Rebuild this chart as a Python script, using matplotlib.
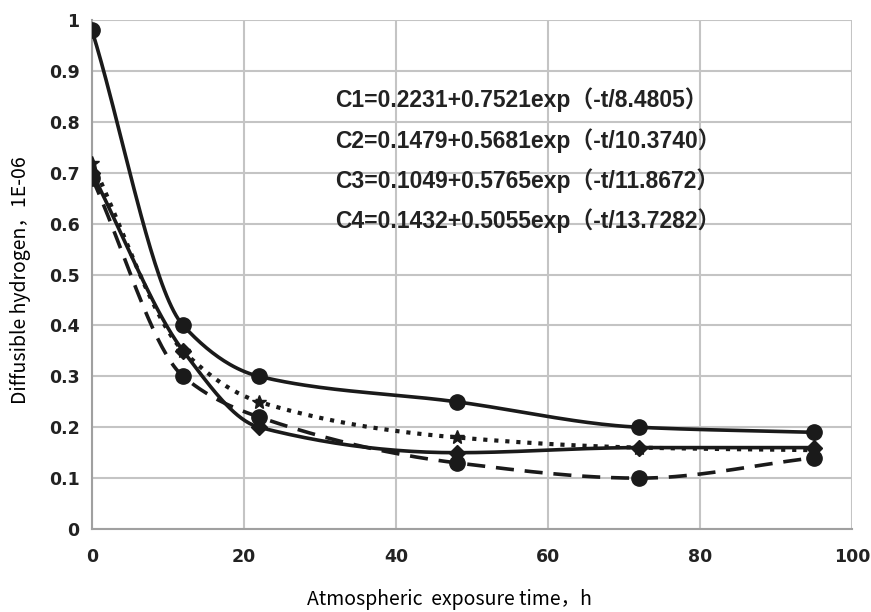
import numpy as np
import matplotlib.pyplot as plt

# exposure time (h)
t = [0, 12, 22, 48, 72, 95]
# diffusible hydrogen, 1E-06
c1 = [0.98, 0.40, 0.30, 0.25, 0.20, 0.19]
c2 = [0.72, 0.35, 0.25, 0.18, 0.16, 0.155]
c3 = [0.70, 0.35, 0.20, 0.15, 0.16, 0.16]
c4 = [0.69, 0.30, 0.22, 0.13, 0.10, 0.14]
equations = ["C1=0.2231+0.7521exp\uff08-t/8.4805\uff09",
             "C2=0.1479+0.5681exp\uff08-t/10.3740\uff09",
             "C3=0.1049+0.5765exp\uff08-t/11.8672\uff09",
             "C4=0.1432+0.5055exp\uff08-t/13.7282\uff09"]


def smooth(x, y, n=40):
    # monotone cubic (fritsch-carlson) through the points, for a smoothed line
    x = np.asarray(x, float)
    y = np.asarray(y, float)
    h = np.diff(x)
    d = np.diff(y) / h
    m = np.zeros_like(y)
    m[0], m[-1] = d[0], d[-1]
    for k in range(1, len(x) - 1):
        if d[k - 1] * d[k] > 0:
            w1 = 2 * h[k] + h[k - 1]
            w2 = h[k] + 2 * h[k - 1]
            m[k] = (w1 + w2) / (w1 / d[k - 1] + w2 / d[k])
    xs, ys = [], []
    for k in range(len(x) - 1):
        s = np.linspace(0, 1, n)
        h00 = 2 * s ** 3 - 3 * s ** 2 + 1
        h10 = s ** 3 - 2 * s ** 2 + s
        h01 = -2 * s ** 3 + 3 * s ** 2
        h11 = s ** 3 - s ** 2
        xs.append(x[k] + s * h[k])
        ys.append(h00 * y[k] + h10 * h[k] * m[k] + h01 * y[k + 1] + h11 * h[k] * m[k + 1])
    return np.concatenate(xs), np.concatenate(ys)


fig = plt.figure(figsize=(8.71, 6.12), dpi=100)
ax = fig.add_axes([0.1056, 0.1356, 0.8724, 0.8314])

series = [(c1, '-', 'o', 11), (c2, ':', '*', 10), (c3, '-', 'D', 8), (c4, (0, (5, 3)), 'o', 11)]
for y, ls, mk, ms in series:
    xs, ys = smooth(t, y)
    ax.plot(xs, ys, color='#1a1a1a', lw=2.6 if ls != ':' else 3, linestyle=ls, zorder=3)
    ax.plot(t, y, linestyle='none', marker=mk, ms=ms, color='#1a1a1a', zorder=4)

ax.set_xlim(0, 100)
ax.set_ylim(0, 1)
ax.set_xticks(range(0, 101, 20))
ax.set_yticks(np.arange(0, 1.01, 0.1))
ax.set_yticklabels(['0', '0.1', '0.2', '0.3', '0.4', '0.5', '0.6', '0.7', '0.8', '0.9', '1'])
ax.grid(True, color='#c4c4c4', lw=1.5)
ax.set_axisbelow(True)
for s in ['top', 'right']:
    ax.spines[s].set_visible(False)
for s in ['left', 'bottom']:
    ax.spines[s].set_color('#a0a0a0')
    ax.spines[s].set_linewidth(1.5)
ax.tick_params(axis='x', pad=14)
ax.tick_params(axis='y', pad=9)
ax.tick_params(length=0, labelsize=12.5, colors='#222222')
for lab in ax.get_xticklabels() + ax.get_yticklabels():
    lab.set_fontweight('bold')

fam = ['Noto Sans CJK SC', 'DejaVu Sans']
ax.set_xlabel("Atmospheric  exposure time\uff0ch", fontsize=14, family=fam)
ax.xaxis.set_label_coords(0.471, -0.118)
ax.set_ylabel("Diffusible hydrogen\uff0c1E-06", fontsize=14, family=fam)
ax.yaxis.set_label_coords(-0.08, 0.49)

for i, eq in enumerate(equations):
    ax.text(32, 0.843 - i * 0.079, eq, fontsize=16.5, fontweight='bold',
            family=['Liberation Sans', 'Noto Sans CJK SC'],
            color='#222222', va='center', ha='left')

fig.savefig('out.png', dpi=100)
